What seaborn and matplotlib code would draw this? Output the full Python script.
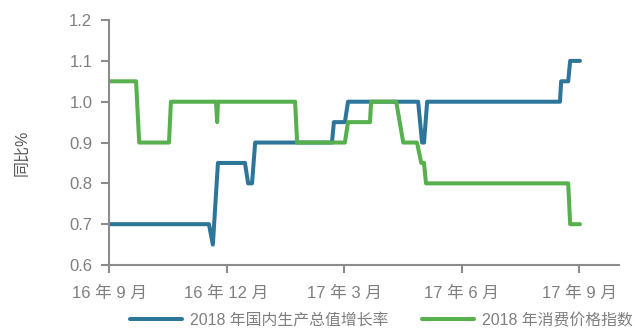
import matplotlib
matplotlib.use("Agg")
import matplotlib.pyplot as plt
import seaborn as sns
import pandas as pd

# Months elapsed since Sep 2016 and the year-on-year readings (%)
gdp_months = [0, 2.55, 2.65, 2.78, 3.47, 3.55, 3.65, 3.73, 5.69, 5.74, 6.02, 6.10,
              7.89, 7.99, 8.04, 8.12, 11.51, 11.54, 11.72, 11.77, 12.02]
gdp_values = [0.70, 0.70, 0.65, 0.85, 0.85, 0.80, 0.80, 0.90, 0.90, 0.95, 0.95, 1.00,
              1.00, 0.90, 0.90, 1.00, 1.00, 1.05, 1.05, 1.10, 1.10]

cpi_months = [0, 0.69, 0.77, 1.53, 1.58, 2.73, 2.76, 2.78, 4.75, 4.80, 6.02, 6.10,
              6.66, 6.69, 7.33, 7.51, 7.86, 7.97, 8.04, 8.09, 11.72, 11.77, 12.02]
cpi_values = [1.05, 1.05, 0.90, 0.90, 1.00, 1.00, 0.95, 1.00, 1.00, 0.90, 0.90, 0.95,
              0.95, 1.00, 1.00, 0.90, 0.90, 0.85, 0.85, 0.80, 0.80, 0.70, 0.70]

series_names = ["2018 年国内生产总值增长率", "2018 年消费价格指数"]
series_colors = ["#2e7699", "#56b04e"]

tick_months = [0, 3, 6, 9, 12]
tick_labels = ["16 年 9 月", "16 年 12 月", "17 年 3 月", "17 年 6 月", "17 年 9 月"]
y_ticks = [0.6, 0.7, 0.8, 0.9, 1.0, 1.1, 1.2]

df = pd.concat([
    pd.DataFrame({"month": gdp_months, "value": gdp_values, "series": series_names[0]}),
    pd.DataFrame({"month": cpi_months, "value": cpi_values, "series": series_names[1]}),
])

sns.set_theme(style="ticks")
plt.rcParams["font.family"] = ["Liberation Sans", "Noto Sans CJK SC", "DejaVu Sans"]

text_gray = "#7f7f7f"
spine_gray = "#8c8c8c"

fig = plt.figure(figsize=(6.35, 3.29), dpi=100)
ax = fig.add_axes([0.1717, 0.1945, 0.975 - 0.1717, 0.939 - 0.1945])

sns.lineplot(data=df, x="month", y="value", hue="series", hue_order=series_names,
             palette=series_colors, linewidth=2.9, sort=False, estimator=None,
             ax=ax, legend=False, solid_capstyle="round", solid_joinstyle="round")

ax.set_xlim(0, 13.02)
ax.set_ylim(0.6, 1.2)
ax.set_xticks(tick_months)
ax.set_xticklabels(tick_labels)
ax.set_yticks(y_ticks)
ax.set_yticklabels([f"{v:.1f}" for v in y_ticks])
ax.set_xlabel("")
ax.set_ylabel("同比%", color="#595959", fontsize=11.5)
ax.yaxis.set_label_coords(-0.156, 0.46)

for side in ["top", "right"]:
    ax.spines[side].set_visible(False)
for side in ["left", "bottom"]:
    ax.spines[side].set_color(spine_gray)
    ax.spines[side].set_linewidth(1.5)

ax.tick_params(axis="y", colors=spine_gray, labelcolor=text_gray, labelsize=12,
               length=6, width=1.5, pad=6)
ax.tick_params(axis="x", colors=spine_gray, labelcolor=text_gray, labelsize=12,
               length=6, width=1.5, pad=9)

handles = [plt.Line2D([], [], color=c, linewidth=2.9) for c in series_colors]
fig.legend(handles, series_names, loc="center", bbox_to_anchor=(0.601, 0.026),
           ncol=2, frameon=False, fontsize=11.4, handlelength=3.3, columnspacing=2.1,
           labelcolor=text_gray, handletextpad=0.5, borderpad=0, borderaxespad=0)

fig.savefig("out.png", dpi=100)
